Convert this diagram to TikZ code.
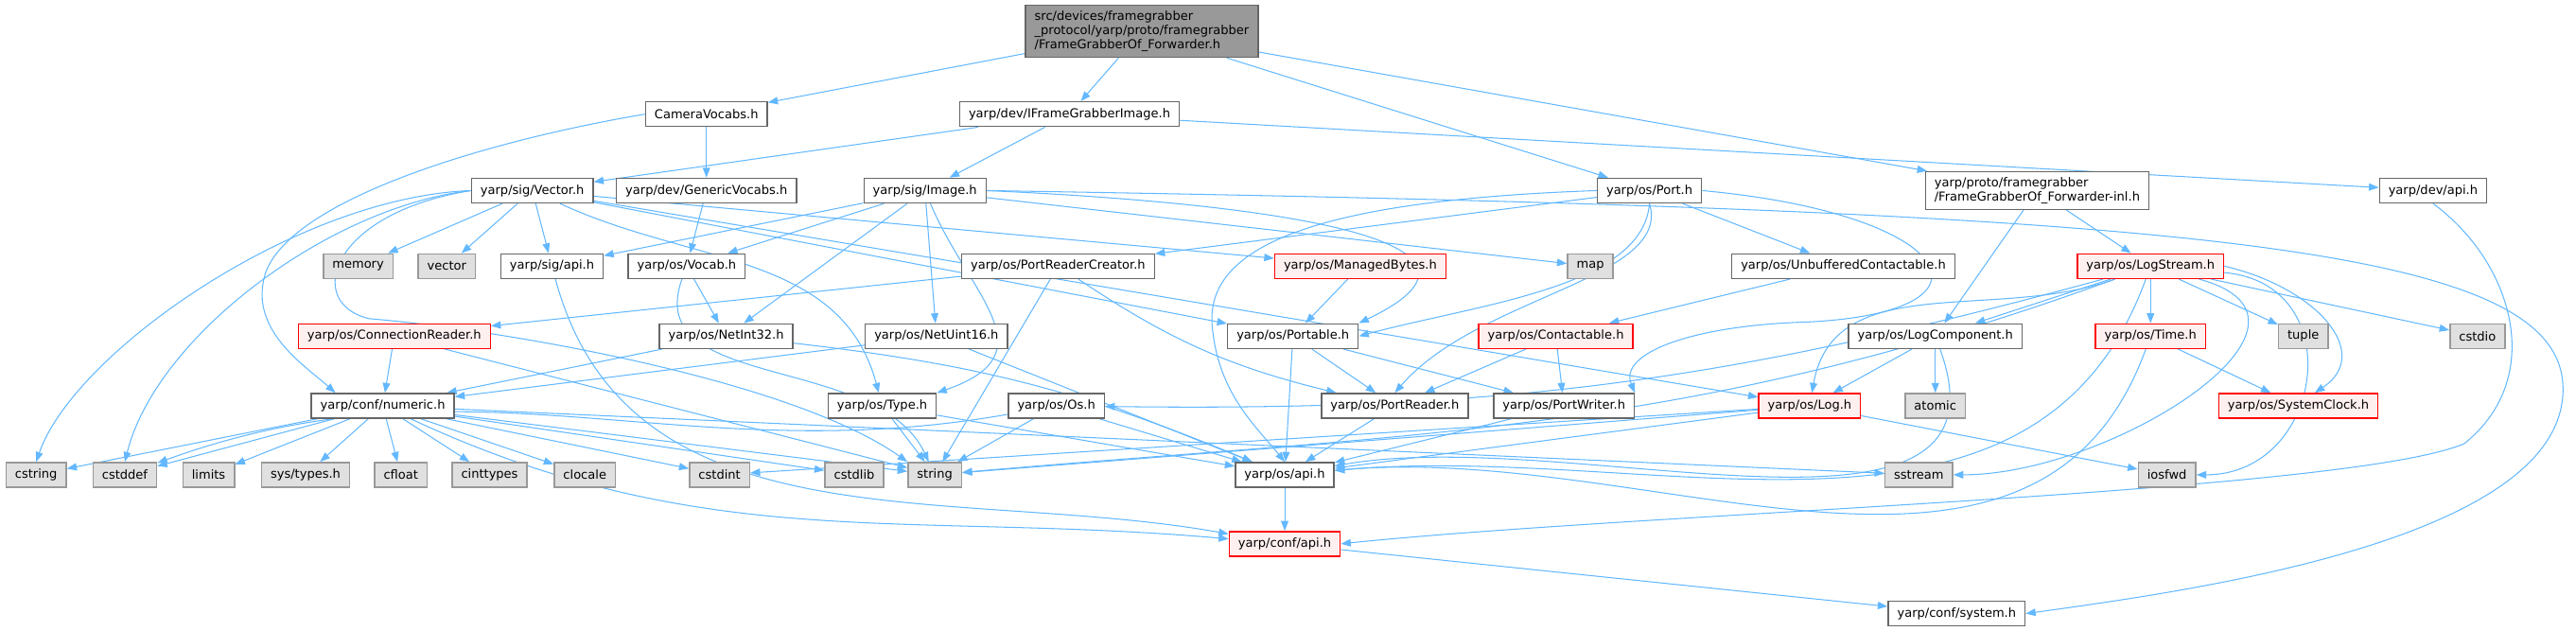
\documentclass[tikz,border=0pt]{standalone}
\usepackage{fontspec}
\setmainfont{DejaVu Sans}
\usetikzlibrary{arrows.meta,backgrounds}
\definecolor{edgeblue}{HTML}{63B8FF}
\definecolor{boxgrey}{HTML}{666666}
\definecolor{sysgrey}{HTML}{999999}
\definecolor{sysfill}{HTML}{E0E0E0}
\definecolor{redfill}{HTML}{FFF0F0}
\tikzset{
  file/.style={draw=boxgrey, fill=white, line width=0.8pt, inner xsep=5.5pt, inner ysep=3.5pt,
    minimum height=15pt, align=left, font=\fontsize{7.5}{8.6}\selectfont},
  redfile/.style={file, draw=red, fill=redfill},
  sysfile/.style={file, draw=sysgrey, fill=sysfill},
  rootfile/.style={file, fill=sysgrey},
  dep/.style={draw=edgeblue, line width=0.6pt, -{Triangle[length=6pt,width=4.5pt]}},
}
\begin{document}
\begin{tikzpicture}[x=1pt,y=1pt]
    \useasboundingbox (0,0) rectangle (1568,-384);
    % top file and its direct includes
    \node[rootfile] (root) at (695,-19) {src/devices/framegrabber\\\_protocol/yarp/proto/framegrabber\\/FrameGrabberOf\_Forwarder.h};
    \node[file] (camvoc) at (430,-69.5) {CameraVocabs.h};
    \node[file] (ifgi) at (651,-69.5) {yarp/dev/IFrameGrabberImage.h};
    % second level
    \node[file] (vector) at (324,-116) {yarp/sig/Vector.h};
    \node[file] (genvoc) at (430,-116) {yarp/dev/GenericVocabs.h};
    \node[file] (image) at (563,-116) {yarp/sig/Image.h};
    \node[file] (port) at (1004,-116) {yarp/os/Port.h};
    \node[file] (fgfinl) at (1240,-116) {yarp/proto/framegrabber\\/FrameGrabberOf\_Forwarder-inl.h};
    \node[file] (devapi) at (1481,-116) {yarp/dev/api.h};
    % third level
    \node[sysfile] (memory) at (218,-162) {memory};
    \node[sysfile] (vectorstd) at (272,-162) {vector};
    \node[file] (sigapi) at (336,-162) {yarp/sig/api.h};
    \node[file] (vocab) at (418,-162) {yarp/os/Vocab.h};
    \node[file] (prc) at (644,-162) {yarp/os/PortReaderCreator.h};
    \node[redfile] (managed) at (828,-162) {yarp/os/ManagedBytes.h};
    \node[sysfile] (map) at (968,-162) {map};
    \node[file] (unbuf) at (1122,-162) {yarp/os/UnbufferedContactable.h};
    \node[redfile] (logstream) at (1309,-162) {yarp/os/LogStream.h};
    % fourth level
    \node[redfile] (connreader) at (240,-204.6) {yarp/os/ConnectionReader.h};
    \node[file] (netint) at (442,-204.6) {yarp/os/NetInt32.h};
    \node[file] (netuint) at (570,-204.6) {yarp/os/NetUint16.h};
    \node[file] (portable) at (787,-204.6) {yarp/os/Portable.h};
    \node[redfile] (contactable) at (947,-204.6) {yarp/os/Contactable.h};
    \node[file] (logcomp) at (1178,-204.6) {yarp/os/LogComponent.h};
    \node[redfile] (time) at (1309,-204.6) {yarp/os/Time.h};
    \node[sysfile] (tuple) at (1402,-204.6) {tuple};
    \node[sysfile] (cstdio) at (1508,-204.6) {cstdio};
    % fifth level
    \node[file] (numeric) at (233,-247) {yarp/conf/numeric.h};
    \node[file] (type) at (537,-247) {yarp/os/Type.h};
    \node[file] (os) at (643,-247) {yarp/os/Os.h};
    \node[file] (portreader) at (849,-247) {yarp/os/PortReader.h};
    \node[file] (portwriter) at (952,-247) {yarp/os/PortWriter.h};
    \node[redfile] (log) at (1101.5,-247) {yarp/os/Log.h};
    \node[sysfile] (atomic) at (1178,-247) {atomic};
    \node[redfile] (sysclock) at (1399,-247) {yarp/os/SystemClock.h};
    % system headers and yarp/os/api.h
    \node[sysfile] (cstring) at (22,-289) {cstring};
    \node[sysfile] (cstddef) at (76,-289) {cstddef};
    \node[sysfile] (limits) at (127,-289) {limits};
    \node[sysfile] (systypes) at (186,-289) {sys/types.h};
    \node[sysfile] (cfloat) at (244,-289) {cfloat};
    \node[sysfile] (cinttypes) at (298,-289) {cinttypes};
    \node[sysfile] (clocale) at (356,-289) {clocale};
    \node[sysfile] (cstdint) at (438,-289) {cstdint};
    \node[sysfile] (cstdlib) at (520,-289) {cstdlib};
    \node[sysfile] (string) at (569,-289) {string};
    \node[file] (osapi) at (782,-289) {yarp/os/api.h};
    \node[sysfile] (sstream) at (1168,-289) {sstream};
    \node[sysfile] (iosfwd) at (1319,-289) {iosfwd};
    % bottom
    \node[redfile] (confapi) at (782,-331) {yarp/conf/api.h};
    \node[file] (confsys) at (1191,-373.5) {yarp/conf/system.h};

    \begin{scope}[on background layer]
    % straight includes
    \foreach \t in {camvoc,ifgi,port,fgfinl} \draw[dep] (root) -- (\t);
    \draw[dep] (camvoc) -- (genvoc);
    \foreach \t in {vector,image,devapi} \draw[dep] (ifgi) -- (\t);
    \draw[dep] (genvoc) -- (vocab);
    \foreach \t in {logstream,logcomp} \draw[dep] (fgfinl) -- (\t);
    \foreach \t in {memory,vectorstd,sigapi,managed,portable,log} \draw[dep] (vector) -- (\t);
    \foreach \t in {sigapi,vocab,netint,netuint,map} \draw[dep] (image) -- (\t);
    \draw[dep] (vocab) -- (netint);
    \foreach \t in {prc,unbuf} \draw[dep] (port) -- (\t);
    \foreach \t in {connreader,string} \draw[dep] (prc) -- (\t);
    \draw[dep] (managed) -- (portable);
    \draw[dep] (unbuf) -- (contactable);
    \foreach \t in {logcomp,time,tuple,cstdio} \draw[dep] (logstream) -- (\t);
    \foreach \t in {log,atomic} \draw[dep] (logcomp) -- (\t);
    \draw[dep] (time) -- (sysclock);
    \foreach \t in {osapi,iosfwd,cstdint,string} \draw[dep] (log) -- (\t);
    \foreach \t in {numeric,string} \draw[dep] (connreader) -- (\t);
    \draw[dep] (netint) -- (numeric);
    \foreach \t in {numeric,osapi} \draw[dep] (netuint) -- (\t);
    \foreach \t in {portreader,portwriter,osapi} \draw[dep] (portable) -- (\t);
    \foreach \t in {portreader,portwriter} \draw[dep] (contactable) -- (\t);
    \foreach \t in {cstring,cstddef,limits,systypes,cfloat,cinttypes,clocale,cstdint,cstdlib,string,sstream}
        \draw[dep] (numeric) -- (\t);
    \foreach \s in {type,os} {
        \draw[dep] (\s) -- (string);
        \draw[dep] (\s) -- (osapi);
    }
    \foreach \s in {portreader,portwriter} \draw[dep] (\s) -- (osapi);
    \draw[dep] (osapi) -- (confapi);
    \draw[dep] (confapi) -- (confsys);
    % curved includes
    \draw[dep] (camvoc.west) .. controls (300,-85) and (180,-120) .. (162,-165)
        .. controls (150,-200) and (185,-222) .. ([xshift=15pt]numeric.north west);
    \draw[dep] (vector.west) .. controls (180,-120) and (45,-215) .. (cstring.north);
    \draw[dep] (vector.west) .. controls (200,-126) and (95,-205) .. (cstddef.north);
    \draw[dep] (vector.west) .. controls (200,-130) and (185,-185) .. (225,-194)
        .. controls (300,-200) and (480,-230) .. (string.north west);
    \draw[dep] (vector) to[out=-25,in=105] (type);
    \draw[dep] (sigapi) to[out=-75,in=170] (confapi);
    \draw[dep] (numeric) to[out=-25,in=175] (confapi);
    \draw[dep] (vocab) to[out=250,in=115] (string);
    \draw[dep] (image) .. controls (590,-180) and (640,-215) .. (type.north east);
    \draw[dep] (image.east) .. controls (800,-125) and (925,-150) .. (portable.north east);
    \draw[dep] (image.east) .. controls (1350,-128) and (1565,-150) .. (1560,-240)
        .. controls (1555,-330) and (1330,-360) .. (confsys.east);
    \draw[dep] (devapi.south) .. controls (1530,-160) and (1550,-230) .. (1500,-270)
        .. controls (1430,-300) and (1000,-312) .. (confapi.east);
    \draw[dep] (port.south) .. controls (1000,-175) and (900,-185) .. (portable.east);
    \draw[dep] (port.south) .. controls (1018,-170) and (900,-180) .. (portreader.north);
    \draw[dep] (port.west) .. controls (800,-122) and (732,-150) .. (738,-200)
        .. controls (742,-240) and (765,-260) .. (osapi.north);
    \draw[dep] (port.east) .. controls (1190,-130) and (1225,-190) .. (1100,-196)
        .. controls (1030,-198) and (985,-215) .. (portwriter.north east);
    \draw[dep] (prc) to[bend right=10] (portreader);
    \draw[dep] (netint) to[bend left=8] (osapi);
    \draw[dep] (os) to[out=190,in=20] (cstddef);
    \draw[dep] (logstream) to[out=200,in=80] (log);
    \draw[dep] (logstream.east) .. controls (1410,-175) and (1445,-215) .. ([xshift=10pt]sysclock.north);
    \draw[dep] (logstream) to[bend left=8] (os);
    \draw[dep] (logstream) to[out=-110,in=5] (osapi);
    \draw[dep] (logstream) to[out=200,in=5] (string);
    \draw[dep] (logstream) to[out=-15,in=0,looseness=1.3] (sstream);
    \draw[dep] (logstream) to[out=-5,in=0,looseness=1.6] (iosfwd);
    \draw[dep] (logcomp) to[out=-70,in=10] (osapi);
    \draw[dep] (time) to[out=250,in=5] (osapi);
    \end{scope}
\end{tikzpicture}
\end{document}
